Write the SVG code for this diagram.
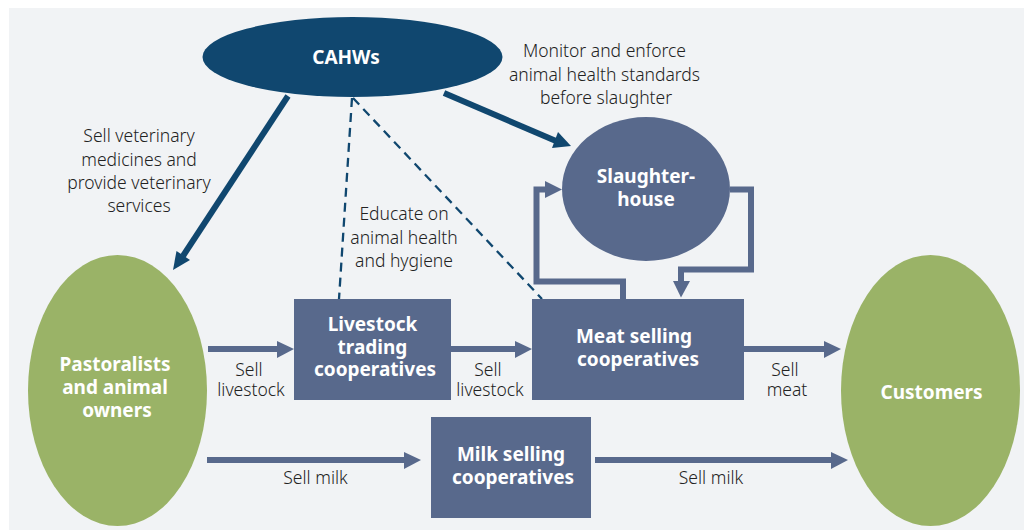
<svg xmlns="http://www.w3.org/2000/svg" width="1024" height="530" viewBox="0 0 1024 530">
<style>
.l{font-family:"Noto Sans","Open Sans",sans-serif;font-size:17.500px;font-weight:300;fill:#222;text-anchor:middle}
.w{font-family:"Noto Sans","Open Sans",sans-serif;font-size:19px;font-weight:700;fill:#fff;text-anchor:middle}
.b{fill:#58698c}.g{fill:#9ab367}
.s{fill:none;stroke:#58698c;stroke-width:6}
.t{fill:#58698c}
.d{stroke:#10476f;stroke-width:6;fill:none}
.h{stroke:#10476f;stroke-width:2.300;fill:none;stroke-dasharray:9 6}
</style>
<rect x="9" y="8" width="1015" height="522" fill="#f1f3f5"/>
<g id="connectors">
<path class="d" d="M288 96L183 256"/><path d="M173 270L176.500 251L190 260Z" fill="#10476f"/>
<path class="d" d="M444 93L556 141"/><path d="M571 146L552 148L558 132Z" fill="#10476f"/>
<path class="h" d="M352 98L339 299"/>
<path class="h" d="M353 98L542 299"/>
<path class="s" d="M623 299V281.500H536.500V189.500H547"/><path class="t" d="M562 189.500L545 181V198Z"/>
<path class="s" d="M730 189.500H751V269.500H681V283"/><path class="t" d="M681 297.500L673 281H690Z"/>
<path class="s" d="M208 349H279"/><path class="t" d="M294 349L277 341V358Z"/>
<path class="s" d="M451 349H517"/><path class="t" d="M532 349L515 341V358Z"/>
<path class="s" d="M744 349H826"/><path class="t" d="M841 349L824 341V358Z"/>
<path class="s" d="M207 460H406"/><path class="t" d="M421 460L404 452V469Z"/>
<path class="s" d="M595 460H833"/><path class="t" d="M848 460L831 452V469Z"/>
</g>
<g id="cahws"><ellipse cx="352.500" cy="57" rx="150" ry="40" fill="#10476f"/><text class="w" x="346" y="63.500">CAHWs</text></g>
<g id="slaughterhouse"><ellipse class="b" cx="646" cy="189" rx="84" ry="72"/><text class="w"><tspan x="646" y="182.500">Slaughter-</tspan><tspan x="646" y="205.500">house</tspan></text></g>
<g id="pastoralists"><ellipse class="g" cx="117.500" cy="390.500" rx="89.500" ry="135.500"/><text class="w"><tspan x="115" y="371">Pastoralists</tspan><tspan x="115" y="394">and animal</tspan><tspan x="117" y="417">owners</tspan></text></g>
<g id="customers"><ellipse class="g" cx="930.500" cy="390.500" rx="89.500" ry="135.500"/><text class="w" x="931.500" y="399">Customers</text></g>
<g id="livestock"><rect class="b" x="294" y="299" width="157" height="101"/><text class="w"><tspan x="372.500" y="331">Livestock</tspan><tspan x="372.500" y="354">trading</tspan><tspan x="375" y="376">cooperatives</tspan></text></g>
<g id="meat"><rect class="b" x="532" y="299" width="212" height="101"/><text class="w"><tspan x="634" y="343">Meat selling</tspan><tspan x="638" y="366">cooperatives</tspan></text></g>
<g id="milk"><rect class="b" x="431" y="417" width="160" height="101"/><text class="w"><tspan x="511" y="461">Milk selling</tspan><tspan x="513" y="484">cooperatives</tspan></text></g>
<g id="labels">
<text class="l"><tspan x="139" y="142">Sell veterinary</tspan><tspan x="139" y="165.500">medicines and</tspan><tspan x="139" y="189">provide veterinary</tspan><tspan x="139" y="212">services</tspan></text>
<text class="l"><tspan x="404" y="220">Educate on</tspan><tspan x="404" y="243.500">animal health</tspan><tspan x="404" y="267">and hygiene</tspan></text>
<text class="l"><tspan x="604.500" y="57">Monitor and enforce</tspan><tspan x="604.500" y="81">animal health standards</tspan><tspan x="606" y="104">before slaughter</tspan></text>
<text class="l"><tspan x="249" y="375.500">Sell</tspan><tspan x="251" y="396">livestock</tspan></text>
<text class="l"><tspan x="488" y="375.500">Sell</tspan><tspan x="490" y="396">livestock</tspan></text>
<text class="l"><tspan x="785" y="375.500">Sell</tspan><tspan x="787" y="396">meat</tspan></text>
<text class="l" x="315.500" y="484">Sell milk</text><text class="l" x="711" y="484">Sell milk</text>
</g>
</svg>
